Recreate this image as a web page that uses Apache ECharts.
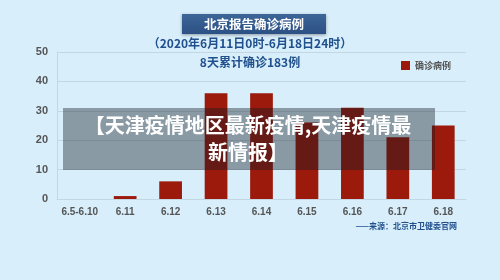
<!DOCTYPE html>
<html>
<head>
<meta charset="utf-8">
<script src="https://cdn.jsdelivr.net/npm/echarts@6/dist/echarts.min.js"></script>
<style>
html,body{margin:0;padding:0;background:#d8eefb;}
#main{width:500px;height:280px;}
</style>
</head>
<body>
<div id="main"></div>
<script>
// 数据
var categories = ['6.5-6.10', '6.11', '6.12', '6.13', '6.14', '6.15', '6.16', '6.17', '6.18'];
var cases = [0, 1, 6, 36, 36, 26, 31, 21, 25];
var yTicks = [0, 10, 20, 30, 40, 50];

var font = '"Noto Sans CJK SC", "Noto Sans", sans-serif';
var myChart = echarts.init(document.getElementById('main'));
var option = {
	backgroundColor: '#d8eefb',
	textStyle: { fontFamily: font },
	legend: {
		right: 44,
		top: 56,
		icon: 'rect',
		itemWidth: 9,
		itemHeight: 9,
		itemGap: 6,
		textStyle: { color: '#555', fontSize: 9, fontWeight: 'bold', fontFamily: font },
		data: ['确诊病例']
	},
	grid: {
		left: 57,
		right: 34,
		top: 52,
		bottom: 81
	},
	xAxis: {
		type: 'category',
		data: categories,
		axisLine: { lineStyle: { color: '#c2d6e4' } },
		axisTick: { show: false },
		axisLabel: { interval: 0, color: '#555', fontSize: 10, fontWeight: 'bold', margin: 8, fontFamily: 'Liberation Sans, sans-serif' }
	},
	yAxis: {
		type: 'value',
		min: 0,
		max: 50,
		interval: 10,
		axisLine: { show: true, lineStyle: { color: '#c2d6e4' } },
		axisTick: { show: false },
		splitLine: { lineStyle: { color: '#c2d6e4' } },
		axisLabel: {
			color: '#555', fontSize: 11, fontWeight: 'bold', margin: 9, fontFamily: 'Liberation Sans, sans-serif',
			formatter: function (v) { return yTicks.indexOf(v) >= 0 ? v : ''; }
		}
	},
	series: [
		{
			name: '确诊病例',
			type: 'bar',
			barWidth: '50%',
			itemStyle: { color: '#9b1a0c' },
			data: cases
		}
	],
	graphic: [
		{
			type: 'rect',
			shape: { x: 182, y: 14, width: 144, height: 20 },
			style: {
				fill: new echarts.graphic.LinearGradient(0, 0, 0, 1, [
					{ offset: 0, color: '#3d6597' },
					{ offset: 1, color: '#2c5184' }
				]),
				shadowBlur: 3, shadowColor: 'rgba(0,0,0,0.35)', shadowOffsetY: 1
			}
		},
		{
			type: 'text', x: 254, y: 24,
			style: { text: '北京报告确诊病例', fill: '#fff', font: 'bold 12.5px ' + font, textAlign: 'center', textVerticalAlign: 'middle' }
		},
		{
			type: 'text', x: 250, y: 43,
			style: { text: '（2020年6月11日0时-6月18日24时）', fill: '#21508e', font: 'bold 12px ' + font, textAlign: 'center', textVerticalAlign: 'middle' }
		},
		{
			type: 'text', x: 250, y: 62,
			style: { text: '8天累计确诊183例', fill: '#21508e', font: 'bold 12px ' + font, textAlign: 'center', textVerticalAlign: 'middle' }
		},
		{
			type: 'text', x: 457, y: 226,
			style: { text: '——来源：北京市卫健委官网', fill: '#21508e', font: 'bold 8px ' + font, textAlign: 'right', textVerticalAlign: 'middle' }
		},
		{
			type: 'rect', z: 100,
			shape: { x: 63, y: 108, width: 372, height: 62 },
			style: { fill: 'rgba(20,28,36,0.4)' }
		},
		{
			type: 'text', z: 101, x: 248, y: 125,
			style: { text: '【天津疫情地区最新疫情,天津疫情最', fill: '#fff', font: 'bold 20px ' + font, textAlign: 'center', textVerticalAlign: 'middle' }
		},
		{
			type: 'text', z: 101, x: 248, y: 152,
			style: { text: '新情报】', fill: '#fff', font: 'bold 20px ' + font, textAlign: 'center', textVerticalAlign: 'middle' }
		}
	]
};
myChart.setOption(option);
</script>
</body>
</html>
